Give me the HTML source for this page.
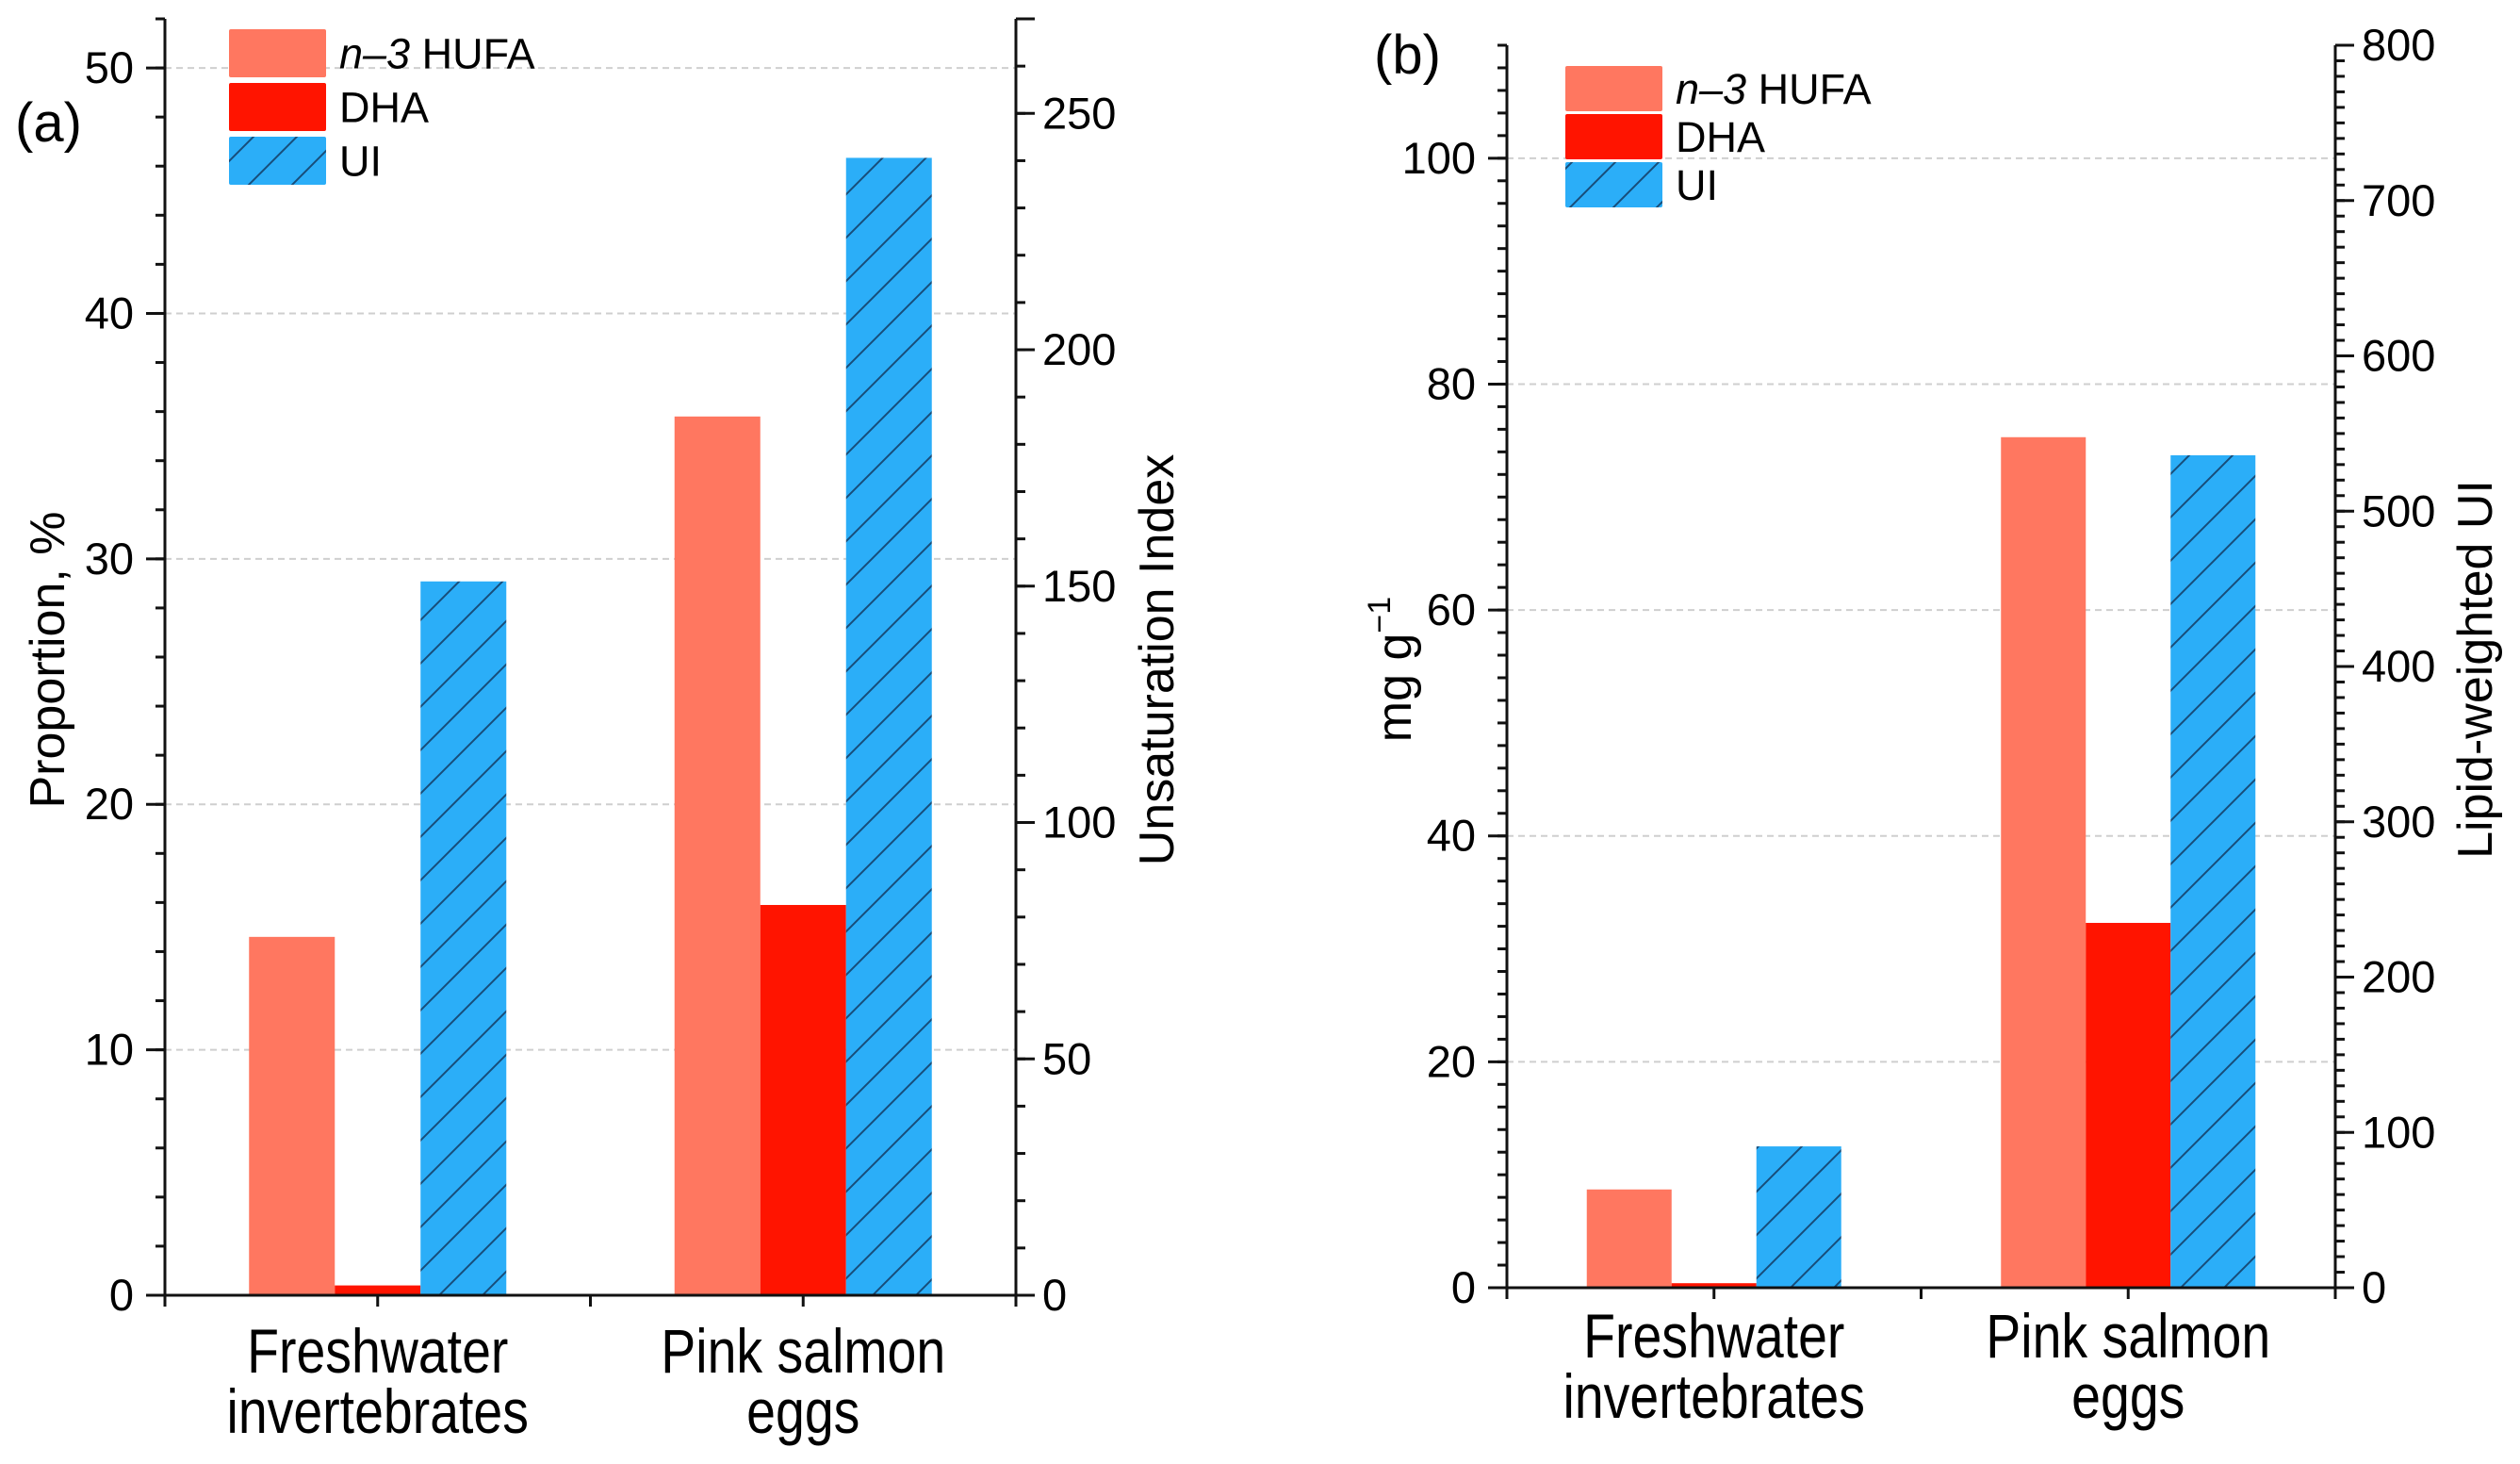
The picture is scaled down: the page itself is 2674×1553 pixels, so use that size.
<!DOCTYPE html>
<html><head><meta charset="utf-8"><style>
html,body{margin:0;padding:0;background:#fff;}
svg{display:block;font-family:"Liberation Sans",Arial,sans-serif;}
</style></head><body>
<svg id="chart" width="2674" height="1553" viewBox="0 0 2674 1553" xmlns="http://www.w3.org/2000/svg">
<defs>
<pattern id="hatch" patternUnits="userSpaceOnUse" width="46" height="46">
<rect width="46" height="46" fill="#2BAEF8"/>
<path d="M-2,48 L48,-2 M-25,25 L25,-25 M21,71 L71,21" stroke="#174d7a" stroke-width="2"/>
</pattern>
</defs>
<g id="root"></g>
</svg>
<script>
const categories = ["Freshwater|invertebrates", "Pink salmon|eggs"];
const seriesNames = ["n–3 HUFA", "DHA", "UI"];
const aHufa = [14.6, 35.8];
const aDha = [0.4, 15.9];
const aUi = [151, 240.6];
const bHufa = [8.7, 75.3];
const bDha = [0.4, 32.3];
const bUi = [91, 536];
const aLeftTicks = [0, 10, 20, 30, 40, 50];
const aRightTicks = [0, 50, 100, 150, 200, 250];
const bLeftTicks = [0, 20, 40, 60, 80, 100];
const bRightTicks = [0, 100, 200, 300, 400, 500, 600, 700, 800];

const NS = "http://www.w3.org/2000/svg";
const root = document.getElementById("root");
function mk(tag, attrs, parent) {
  const e = document.createElementNS(NS, tag);
  for (const k in attrs) e.setAttribute(k, attrs[k]);
  (parent || root).appendChild(e);
  return e;
}
function txt(s, attrs, parent) { const t = mk("text", attrs, parent); t.textContent = s; return t; }

function panel(cfg) {
  const g = mk("g", {});
  
  
  const yL = v => cfg.y0 - (v - 0) / cfg.lMax * (cfg.y0 - cfg.top);
  const yR = v => cfg.y0 - (v - 0) / cfg.rMax * (cfg.y0 - cfg.top);
  const W = cfg.x1 - cfg.x0;
  const xC = i => cfg.x0 + W * (i + 0.5) / categories.length;
  cfg.lTicks.forEach(v => {
    if (v === 0) return;
    const l = mk("line", {x1: cfg.x0, x2: cfg.x1, y1: yL(v), y2: yL(v), stroke: "#cfcfcf", "stroke-width": 2, "stroke-dasharray": "7,5"}, g);
    
    
  });
  const bw = cfg.bw;
  categories.forEach((c, i) => {
    const cx = xC(i);
    const specs = [
      {v: cfg.hufa[i], y: yL, fill: "#FF7760", n: "bar-hufa"},
      {v: cfg.dha[i], y: yL, fill: "#FF1400", n: "bar-dha"},
      {v: cfg.ui[i], y: yR, fill: "url(#hatch)", n: "bar-ui"}
    ];
    specs.forEach((s, k) => {
      const x = cx - 1.5 * bw + k * bw;
      const yt = s.y(s.v);
      const r = mk("rect", {x: x, y: yt, width: bw, height: cfg.y0 - yt, fill: s.fill}, g);
      
      
    });
  });
  const ax = mk("g", {stroke: "#111", "stroke-width": 3, fill: "none"}, g);
  
  
  mk("line", {x1: cfg.x0, x2: cfg.x0, y1: cfg.top, y2: cfg.y0 + 10}, ax);
  mk("line", {x1: cfg.x1, x2: cfg.x1, y1: cfg.top, y2: cfg.y0 + 10}, ax);
  mk("line", {x1: cfg.x0 - 20, x2: cfg.x1 + 20, y1: cfg.y0, y2: cfg.y0}, ax);
  mk("line", {x1: cfg.x1, x2: cfg.x1 + 20, y1: cfg.top, y2: cfg.top}, ax);
  mk("line", {x1: cfg.x0 - 10, x2: cfg.x0, y1: cfg.top, y2: cfg.top}, ax);
  [0, 0.5, 1, 1.5, 2].forEach(p => {
    const x = cfg.x0 + W * p / 2;
    mk("line", {x1: x, x2: x, y1: cfg.y0, y2: cfg.y0 + 12}, ax);
  });
  for (let v = 0; v <= cfg.lMax + 1e-9; v += cfg.lMinor) mk("line", {x1: cfg.x0 - 10, x2: cfg.x0, y1: yL(v), y2: yL(v)}, ax);
  for (let v = 0; v <= cfg.rMax + 1e-9; v += cfg.rMinor) mk("line", {x1: cfg.x1, x2: cfg.x1 + 10, y1: yR(v), y2: yR(v)}, ax);
  cfg.lTicks.forEach(v => {
    mk("line", {x1: cfg.x0 - 20, x2: cfg.x0, y1: yL(v), y2: yL(v)}, ax);
    const t = txt(String(v), {x: cfg.x0 - 33, y: yL(v) + 16, "font-size": 47, "text-anchor": "end", fill: "#000"}, g);
    
    
  });
  cfg.rTicks.forEach(v => {
    mk("line", {x1: cfg.x1, x2: cfg.x1 + 20, y1: yR(v), y2: yR(v)}, ax);
    const t = txt(String(v), {x: cfg.x1 + 28, y: yR(v) + 16, "font-size": 47, "text-anchor": "start", fill: "#000"}, g);
    
    
  });
  categories.forEach((c, i) => {
    const parts = c.split("|");
    parts.forEach((p, j) => {
      const t = txt(p, {transform: "translate(" + xC(i) + "," + (cfg.catY + j * 64) + ") scale(0.84,1)", "font-size": 66, "text-anchor": "middle", fill: "#000"}, g);
      
      
    });
  });
  const lt = txt("", {transform: "translate(" + cfg.lTitleX + "," + cfg.titleY + ") rotate(-90)", "font-size": 52, "text-anchor": "middle", fill: "#000"}, g);
  lt.innerHTML = cfg.lTitle;
  
  
  const rt = txt(cfg.rTitle, {transform: "translate(" + cfg.rTitleX + "," + cfg.titleY + ") rotate(-90)", "font-size": 52, "text-anchor": "middle", fill: "#000"}, g);
  
  
  const pl = txt(cfg.tag, {x: cfg.tagX, y: cfg.tagY, "font-size": 58, fill: "#000"}, g);
  
  
  const lg = mk("g", {}, g);
  
  
  const fills = ["#FF7760", "#FF1400", "url(#hatch)"];
  seriesNames.forEach((s, k) => {
    const y = cfg.legY + k * cfg.legStep;
    const r = mk("rect", {x: cfg.legX, y: y, width: 103, height: cfg.legH, fill: fills[k], rx: 2}, lg);
    
    
    const t = mk("text", {x: cfg.legX + 117, y: y + cfg.legH / 2 + 16, "font-size": 45, fill: "#000"}, lg);
    
    
    if (k === 0) t.innerHTML = '<tspan font-style="italic">n–3</tspan> HUFA';
    else t.textContent = s;
  });
}

panel({id: "a", x0: 175, x1: 1078, top: 20, y0: 1374, lMax: 52, rMax: 270, lMinor: 2, rMinor: 10, bw: 91,
  hufa: aHufa, dha: aDha, ui: aUi, lTicks: aLeftTicks, rTicks: aRightTicks,
  catY: 1456, lTitle: "Proportion, %", rTitle: "Unsaturation Index", lTitleX: 68, rTitleX: 1245, titleY: 700,
  tag: "(a)", tagX: 16, tagY: 150, legX: 243, legY: 31, legStep: 57, legH: 51});
panel({id: "b", x0: 1599, x1: 2478, top: 48, y0: 1366, lMax: 110, rMax: 800, lMinor: 2, rMinor: 10, bw: 90,
  hufa: bHufa, dha: bDha, ui: bUi, lTicks: bLeftTicks, rTicks: bRightTicks,
  catY: 1440, lTitle: 'mg g<tspan font-size="34" dy="-22">−1</tspan>', rTitle: "Lipid-weighted UI", lTitleX: 1497, rTitleX: 2644, titleY: 710,
  tag: "(b)", tagX: 1458, tagY: 78, legX: 1661, legY: 70, legStep: 51, legH: 48});
</script>
</body></html>
